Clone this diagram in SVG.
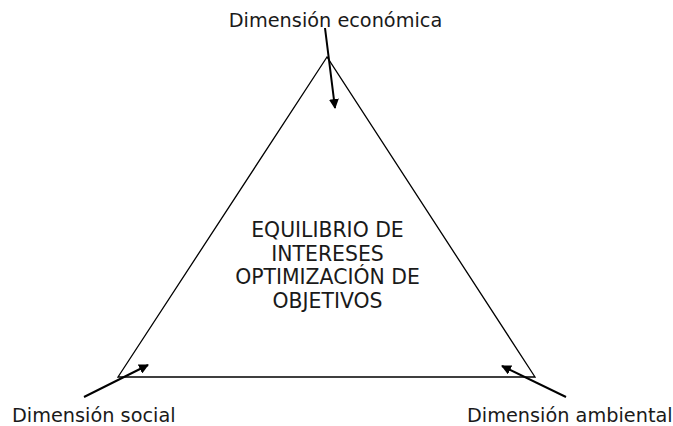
<svg xmlns="http://www.w3.org/2000/svg" width="673" height="426" viewBox="0 0 673 426">
<style>
text{font-family:"DejaVu Sans",Verdana,sans-serif;font-size:19.3px;fill:#1a1a1a}
.c{text-anchor:middle}
.m{font-size:20.4px}
.ln{stroke:#000;stroke-width:1.3;fill:none}
.ar{stroke:#000;stroke-width:2;fill:none}
</style>
<defs>
<marker id="ah" viewBox="0 0 10 10" refX="9" refY="5" markerWidth="5" markerHeight="5" orient="auto" markerUnits="strokeWidth">
<path d="M0,0 L10,5 L0,10 Z" fill="#000"/>
</marker>
</defs>
<g id="triangle">
<polygon class="ln" points="327,57 118,377 535,377"/>
<text class="c m" x="327.5" y="237">EQUILIBRIO DE</text>
<text class="c m" x="327.5" y="260.5">INTERESES</text>
<text class="c m" x="327.5" y="284">OPTIMIZACIÓN DE</text>
<text class="c m" x="327.5" y="307.5">OBJETIVOS</text>
</g>
<g id="economica"><text class="c" x="335.5" y="27">Dimensión económica</text></g>
<g id="social"><text x="12" y="422">Dimensión social</text></g>
<g id="ambiental"><text x="467" y="422">Dimensión ambiental</text></g>
<g id="connectors">
<line class="ar" x1="325" y1="28" x2="335" y2="108" marker-end="url(#ah)"/>
<line class="ar" x1="84" y1="397" x2="148" y2="365" marker-end="url(#ah)"/>
<line class="ar" x1="566" y1="397" x2="502" y2="366" marker-end="url(#ah)"/>
</g>
</svg>
